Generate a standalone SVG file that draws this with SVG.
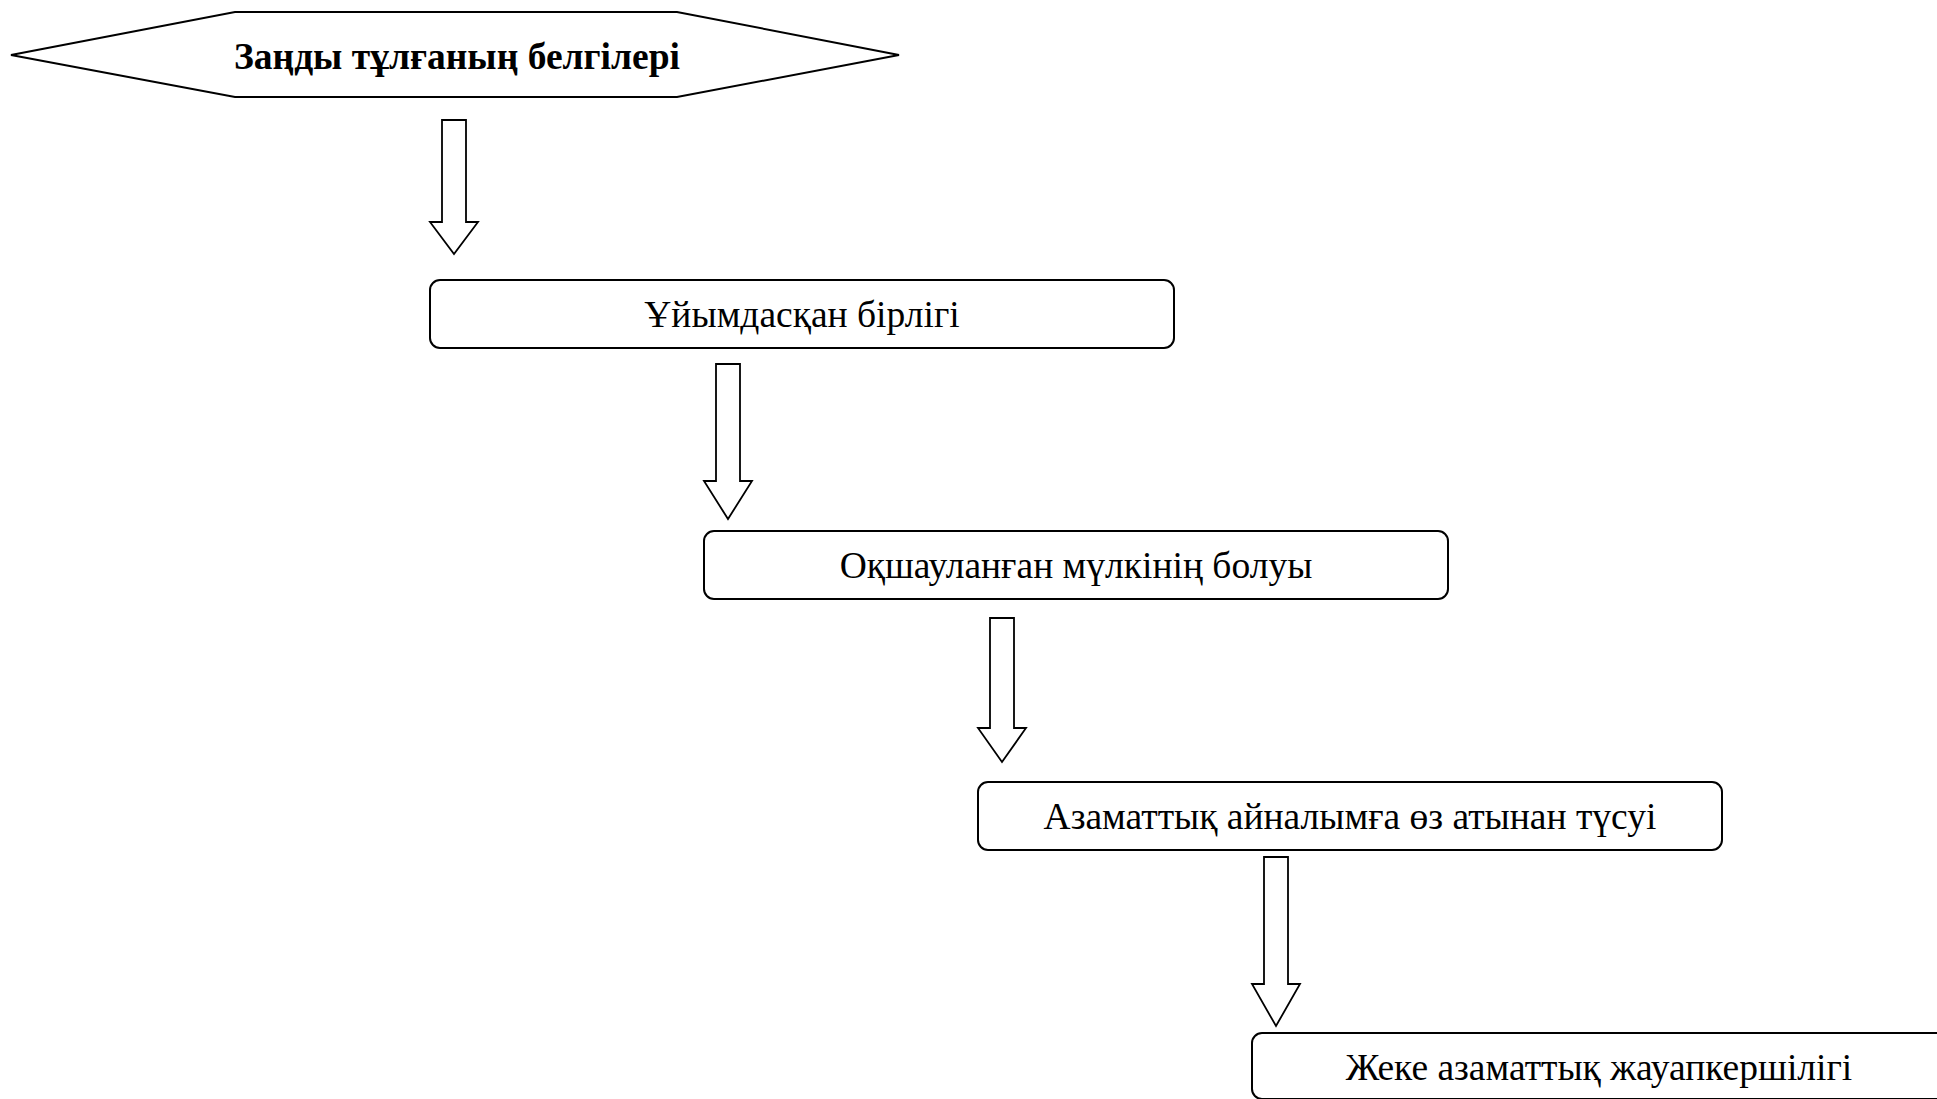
<svg xmlns="http://www.w3.org/2000/svg" width="1937" height="1099" viewBox="0 0 1937 1099">
<style>
.shape{fill:#ffffff;stroke:#000000;stroke-width:2}
.arrow{fill:#ffffff;stroke:#000000;stroke-width:1.8;stroke-linejoin:miter}
.lbl{font-family:"Liberation Serif","Times New Roman",serif;font-size:37.5px;fill:#000000;text-anchor:middle}
.bold{font-weight:bold}
</style>
<rect x="0" y="0" width="1937" height="1099" fill="#ffffff"/>
<g id="connectors">
<polygon class="arrow" points="442,120 466,120 466,222 478,222 454,254 430,222 442,222"/>
<polygon class="arrow" points="716,364 740,364 740,481 752,481 728,519 704,481 716,481"/>
<polygon class="arrow" points="990,618 1014,618 1014,728 1026,728 1002,762 978,728 990,728"/>
<polygon class="arrow" points="1264,857 1288,857 1288,984 1300,984 1276,1026 1252,984 1264,984"/>
</g>
<g id="node-title">
<polygon class="shape" points="11,55 235,12 677,12 899,55 677,97 235,97"/>
<text class="lbl bold" x="457" y="69">Заңды тұлғаның белгілері</text>
</g>
<g id="node-1">
<rect class="shape" x="430" y="280" width="744" height="68" rx="10" ry="10"/>
<text class="lbl" x="802" y="327">Ұйымдасқан бірлігі</text>
</g>
<g id="node-2">
<rect class="shape" x="704" y="531" width="744" height="68" rx="10" ry="10"/>
<text class="lbl" x="1076" y="578">Оқшауланған мүлкінің болуы</text>
</g>
<g id="node-3">
<rect class="shape" x="978" y="782" width="744" height="68" rx="10" ry="10"/>
<text class="lbl" x="1350" y="829">Азаматтық айналымға өз атынан түсуі</text>
</g>
<g id="node-4">
<rect class="shape" x="1252" y="1033" width="744" height="66" rx="10" ry="10"/>
<text class="lbl" x="1599" y="1080">Жеке азаматтық жауапкершілігі</text>
</g>
</svg>
